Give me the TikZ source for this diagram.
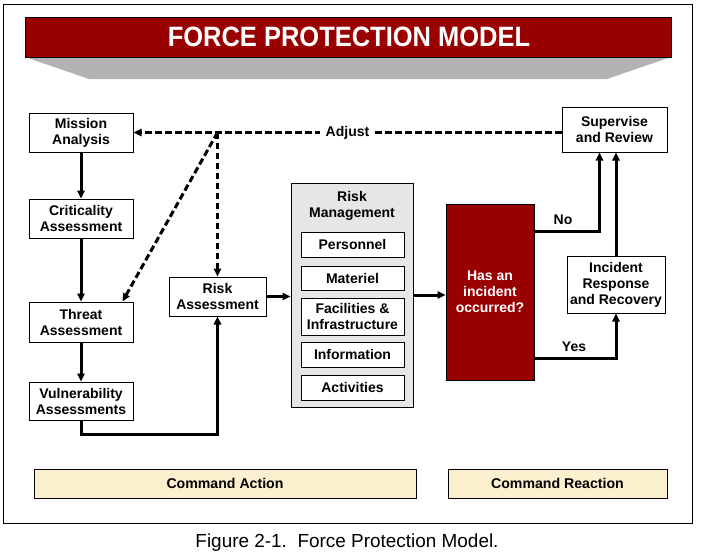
\documentclass[tikz,border=0pt]{standalone}
\usepackage{fontspec}
\setmainfont{Liberation Sans}
\usepackage{graphicx}
\usetikzlibrary{arrows.meta,calc}

\tikzset{every picture/.style={line width=0.75pt}}
\tikzset{
  box/.style={draw, fill=white, inner sep=0pt, align=center, font=\bfseries\fontsize{10.5}{12}\selectfont},
  cmdbox/.style={box, fill={rgb, 255:red, 251; green, 240; blue, 206 }, font=\bfseries\fontsize{10.6}{12}\selectfont},
  flow/.style={line width=2.25pt, -{Triangle[length=6pt,width=5.5pt]}},
  adjust/.style={flow, dash pattern=on 5pt off 2.5pt},
  lbl/.style={inner sep=0.75pt, font=\bfseries\fontsize{10.5}{12}\selectfont}
}

\begin{document}
\begin{tikzpicture}[x=0.75pt,y=0.75pt,yscale=-1,xscale=1]
\useasboundingbox (0,0) rectangle (702,553);

\draw (3,4) rectangle (692,523);
\draw  [draw opacity=0][fill={rgb, 255:red, 178; green, 178; blue, 178 }  ,fill opacity=1 ] (25,57) -- (671,57) -- (607,79) -- (89,79) -- cycle ;
\draw  [fill={rgb, 255:red, 153; green, 0; blue, 0 }  ,fill opacity=1 ] (25,17) rectangle (671,57) ;
\draw (349,37) node (title) [inner sep=0pt, text=white, font=\bfseries\fontsize{21}{24}\selectfont] {\scalebox{0.91}[1]{FORCE PROTECTION MODEL}};

\draw (81,132.5) node (mission) [box, minimum width=78pt, minimum height=29.25pt] {Mission\\Analysis};
\draw (81,218.5) node (crit) [box, minimum width=78pt, minimum height=29.25pt] {Criticality\\Assessment};
\draw (81,322) node (threat) [box, minimum width=78pt, minimum height=30pt] {Threat\\Assessment};
\draw (81,401) node (vuln) [box, minimum width=78pt, minimum height=28.5pt] {Vulnerability\\Assessments};
\draw (217.5,296.5) node (risk) [box, minimum width=72.75pt, minimum height=29.25pt] {Risk\\Assessment};

\draw (352,295) node (rm) [box, fill={rgb, 255:red, 230; green, 230; blue, 230 }, minimum width=91.5pt, minimum height=168pt] {};
\draw (352,205.5) node (rmtitle) [lbl, align=center] {Risk\\Management};
\draw (352.5,244.5) node (pers) [box, minimum width=77.25pt, minimum height=18.75pt] {Personnel};
\draw (352.5,278) node (mat) [box, minimum width=77.25pt, minimum height=18pt] {Materiel};
\draw (352.5,316.5) node (fac) [box, minimum width=77.25pt, minimum height=27.75pt] {Facilities \&\\Infrastructure};
\draw (352.5,354.5) node (info) [box, minimum width=77.25pt, minimum height=18.75pt] {Information};
\draw (352.5,387.5) node (act) [box, minimum width=77.25pt, minimum height=18.75pt] {Activities};

\draw (490,292) node (incident) [box, fill={rgb, 255:red, 153; green, 0; blue, 0 }, text=white, minimum width=66pt, minimum height=132pt] {Has an\\incident\\occurred?};
\draw (614.5,129.5) node (super) [box, minimum width=78.75pt, minimum height=33.75pt] {Supervise\\and Review};
\draw (616,284.5) node (resp) [box, minimum width=73.5pt, minimum height=42.75pt] {Incident\\Response\\and Recovery};

\draw (225,483.5) node (action) [cmdbox, minimum width=286.5pt, minimum height=21.75pt] {Command Action};
\draw (557.5,483.5) node (reaction) [cmdbox, minimum width=164.25pt, minimum height=21.75pt] {Command Reaction};

\draw [flow] (mission) -- (crit);
\draw [flow] (crit) -- (threat);
\draw [flow] (threat) -- (vuln);
\draw [flow] (vuln.south) -- (vuln.south |- 0,434) -| (risk.south);
\draw [flow] (risk.east) -- (rm.west |- risk.east);
\draw [flow] (rm.east) -- (incident.west |- rm.east);

\coordinate (fork) at (mission.east -| risk.north);
\draw [adjust] (super.west |- mission.east) -- node (adj) [lbl, fill=white, inner sep=4pt] {Adjust} (mission.east);
\draw [adjust] (fork) -- (risk.north);
\draw [adjust] (fork) -- ($(threat.north east)+(-11,0)$);

\draw [flow] ($(incident.north east)+(0,28)$) -| ($(super.south)+(-15,0)$);
\draw [flow] ($(incident.south east)+(0,-22)$) -| (resp.south);
\draw [flow] (resp.north) -- (resp.north |- super.south);
\draw (563,220) node (no) [lbl] {No};
\draw (574,347) node (yes) [lbl] {Yes};

\draw (347,547) node (caption) [anchor=base, inner sep=0pt, font=\fontsize{14.2}{16}\selectfont] {Figure 2-1.\ \ Force Protection Model.};

\end{tikzpicture}
\end{document}
